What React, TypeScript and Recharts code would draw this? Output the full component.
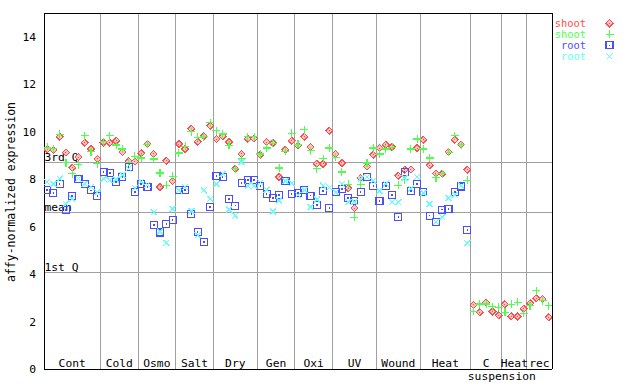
import React from 'react';
import { ScatterChart, Scatter, XAxis, YAxis, ReferenceLine } from 'recharts';

// ---- categories / groups ----
const groupNames = ['Cont', 'Cold', 'Osmo', 'Salt', 'Dry', 'Gen', 'Oxi', 'UV', 'Wound', 'Heat', 'C', 'Heat', 'rec'];
const groupSizes = [9, 6, 6, 6, 7, 6, 6, 7, 7, 8, 5, 4, 4];
const subLabelText = 'suspension';
const subLabelBoundaryIndex = 10; // boundary after group "C"

// ---- axis ticks ----
const yTicks = [0, 2, 4, 6, 8, 10, 12, 14];
const yDomain = [0, 15];

// ---- quartile lines ----
const quartileLabels = ['3rd Q', 'mean', '1st Q'];
const quartileValues = [8.68, 6.61, 4.08];

// ---- series ----
const seriesNames = ['shoot', 'shoot', 'root', 'root'];
const seriesColors = ['#ff4d4d', '#4dff4d', '#4d4dff', '#5cffff'];

const shootRed = [
  9.26, 9.22, 9.79, 9.13, 8.48, 8.93, 9.53, 9.27, 8.85,
  9.54, 9.53, 9.61, 9.15, 8.75, 8.75,
  9.10, 9.48, 9.06, 7.67, 8.78, 7.93,
  9.48, 9.27, 10.12, 9.58, 9.81, 10.24,
  9.69, 9.80, 9.56, 8.44, 9.06, 9.70, 9.71,
  9.03, 9.56, 9.52, 8.09, 9.24, 9.62,
  9.42, 9.78, 9.35, 8.64, 8.64, 10.04,
  9.06, 8.68, 7.62, 6.78, 8.05, 8.54, 9.03,
  9.31, 9.45, 9.35, 8.14, 8.40, 8.40, 9.31,
  9.66, 8.58, 8.23, 8.23, 9.14, 9.66, 9.45, 8.40,
  2.70, 2.39, 2.80, 2.42, 2.26,
  2.73, 2.22, 2.22, 2.53,
  2.77, 2.98, 2.95, 2.18,
];

const shootGreen = [
  9.34, 9.28, 9.89, 8.70, 8.22, 8.61, 9.82, 9.15, 8.65,
  9.58, 9.82, 9.44, 9.27, 8.71, 8.96,
  8.89, 9.46, 8.85, 8.26, 7.75, 8.12,
  9.10, 9.39, 9.99, 9.77, 9.78, 10.37,
  10.04, 9.90, 9.42, 8.44, 8.86, 9.78, 9.78,
  9.06, 9.31, 9.52, 8.47, 9.17, 9.94,
  9.47, 10.08, 9.20, 8.44, 8.86, 9.31,
  8.93, 8.30, 7.79, 6.40, 7.79, 8.68, 9.31,
  9.06, 9.27, 9.35, 7.75, 7.97, 9.27, 9.69,
  9.27, 8.89, 8.05, 8.23, 9.14, 9.83, 9.45, 7.96,
  2.43, 2.74, 2.74, 2.63, 2.60,
  2.39, 2.73, 2.81, 2.35,
  2.66, 3.29, 2.87, 2.66,
];

const rootBlue = [
  7.54, 7.42, 7.80, 6.70, 7.28, 8.02, 7.80, 7.53, 7.28,
  8.30, 8.26, 7.87, 8.09, 8.51, 7.46,
  7.80, 7.67, 6.07, 5.75, 6.10, 6.28,
  7.53, 7.54, 6.53, 5.77, 5.35, 6.82,
  8.13, 8.09, 7.16, 6.88, 7.83, 7.96, 7.96,
  7.72, 7.37, 7.20, 7.33, 7.93, 7.37,
  7.41, 7.54, 7.30, 6.92, 7.51, 6.78,
  7.45, 7.58, 7.20, 7.09, 7.45, 8.09, 7.72,
  7.07, 7.72, 7.34, 6.41, 8.30, 7.51, 7.79,
  7.44, 6.46, 6.19, 6.71, 6.74, 7.45, 7.69, 5.86,
  null, null, null, null, null,
  null, null, null, null,
  null, null, null, null,
];

const rootCyan = [
  7.88, 7.80, 8.02, 6.96, 7.18, 8.02, 7.80, 7.67, 7.45,
  8.02, 7.96, 7.99, 8.18, 8.45, 7.63,
  7.88, 7.77, 6.61, 5.80, 5.32, 6.75,
  7.53, 7.67, 6.66, 5.64, 7.53, 7.17,
  7.79, 8.22, 6.72, 6.46, 8.72, 7.72, 7.72,
  7.86, 7.55, 6.64, 7.10, 7.93, 7.83,
  7.34, 7.54, 6.82, 7.14, 7.72, 7.65,
  7.45, 7.79, 7.03, 7.03, 8.02, 8.09, 7.93,
  7.50, 7.81, 7.03, 7.03, 8.05, 7.59, 8.09,
  7.41, 6.95, 6.19, 6.40, 7.20, 7.34, 7.72, 5.30,
  null, null, null, null, null,
  null, null, null, null,
  null, null, null, null,
];

const seriesValues = [shootRed, shootGreen, rootBlue, rootCyan];

// ---- derived ----
const totalSamples = groupSizes.reduce((a, b) => a + b, 0);
const boundaries: number[] = [];
const groupCenters: number[] = [];
{
  let acc = 0;
  groupSizes.forEach((s, i) => {
    groupCenters.push(acc + s / 2);
    acc += s;
    if (i < groupSizes.length - 1) boundaries.push(acc);
  });
}
const toPoints = (vals: (number | null)[]) =>
  vals
    .map((v, i) => (v == null ? null : { x: i + 0.5, y: v }))
    .filter((p) => p !== null) as { x: number; y: number }[];

const FONT = '"DejaVu Sans Mono", "Liberation Mono", monospace';
const GRID = '#a0a0a0';

// ---- markers ----
const Marker = ({ kind, cx, cy, color }: { kind: number; cx: number; cy: number; color: string }) => {
  if (cx == null || cy == null) return null;
  if (kind === 0) {
    return (
      <g>
        <path
          d={`M${cx},${cy - 3.5}L${cx + 3.5},${cy}L${cx},${cy + 3.5}L${cx - 3.5},${cy}Z`}
          fill="#ffc0c0"
          stroke={color}
          strokeWidth={1}
        />
        <rect x={cx - 0.5} y={cy - 0.5} width={1} height={1} fill={color} />
      </g>
    );
  }
  if (kind === 1) {
    return (
      <g stroke={color} strokeWidth={1.1}>
        <line x1={cx - 4} y1={cy} x2={cx + 4} y2={cy} />
        <line x1={cx} y1={cy - 4} x2={cx} y2={cy + 4} />
      </g>
    );
  }
  if (kind === 2) {
    return (
      <g>
        <rect x={cx - 3.5} y={cy - 3.5} width={7} height={7} fill="none" stroke={color} strokeWidth={1.1} />
        <rect x={cx - 0.75} y={cy - 0.75} width={1.5} height={1.5} fill={color} />
      </g>
    );
  }
  return (
    <g stroke={color} strokeWidth={1.1}>
      <line x1={cx - 3} y1={cy - 3} x2={cx + 3} y2={cy + 3} />
      <line x1={cx - 3} y1={cy + 3} x2={cx + 3} y2={cy - 3} />
    </g>
  );
};

const GroupTick = (props: any) => {
  const { x, y, payload } = props;
  const idx = groupCenters.findIndex((c) => Math.abs(c - payload.value) < 1e-6);
  return (
    <text x={x} y={y - 2} textAnchor="middle" fontFamily={FONT} fontSize={11.3} fill="#000">
      {idx >= 0 ? groupNames[idx] : ''}
    </text>
  );
};

const QLabel = (props: any) => {
  const vb = props.viewBox || {};
  return (
    <text x={vb.x + 0.5} y={vb.y - 1.5} fontFamily={FONT} fontSize={11.3} fill="#000">
      {props.text}
    </text>
  );
};

const SubLabel = (props: any) => {
  const vb = props.viewBox || {};
  return (
    <text x={vb.x} y={vb.y + vb.height + 11} textAnchor="middle" fontFamily={FONT} fontSize={11.3} fill="#000">
      {subLabelText}
    </text>
  );
};

export default function App() {
  return (
    <div
      style={{
        position: 'absolute',
        left: 0,
        top: 0,
        width: 640,
        height: 384,
        background: '#fff',
        shapeRendering: 'crispEdges',
      }}
    >
      <ScatterChart width={640} height={384} margin={{ top: 13, right: 88, bottom: 0, left: 0 }}>
        <XAxis
          xAxisId="x"
          type="number"
          dataKey="x"
          domain={[0, totalSamples]}
          allowDataOverflow
          ticks={groupCenters}
          interval={0}
          tick={<GroupTick />}
          tickLine={false}
          tickSize={0}
          tickMargin={0}
          axisLine={{ stroke: '#000' }}
          height={15}
        />
        <YAxis
          yAxisId="y"
          type="number"
          dataKey="y"
          domain={yDomain}
          allowDataOverflow
          ticks={yTicks}
          interval={0}
          width={44}
          tickLine={false}
          axisLine={{ stroke: '#000' }}
          tick={{ fontSize: 11.3, fill: '#000', fontFamily: FONT }}
        />
        <YAxis
          yAxisId="yl"
          type="number"
          orientation="left"
          mirror
          domain={yDomain}
          allowDataOverflow
          ticks={yTicks}
          interval={0}
          width={10}
          tick={false}
          tickSize={5}
          axisLine={false}
          tickLine={{ stroke: '#000' }}
        />
        <YAxis
          yAxisId="yr"
          type="number"
          orientation="right"
          mirror
          domain={yDomain}
          allowDataOverflow
          ticks={yTicks}
          interval={0}
          width={10}
          tick={false}
          tickSize={5}
          axisLine={{ stroke: '#000' }}
          tickLine={{ stroke: '#000' }}
        />
        {boundaries.map((b, i) => (
          <ReferenceLine
            key={'b' + i}
            xAxisId="x"
            yAxisId="y"
            x={b}
            stroke={GRID}
            strokeWidth={1}
            label={i === subLabelBoundaryIndex ? <SubLabel /> : undefined}
          />
        ))}
        {quartileValues.map((q, i) => (
          <ReferenceLine
            key={'q' + i}
            xAxisId="x"
            yAxisId="y"
            y={q}
            stroke={GRID}
            strokeWidth={1}
            label={<QLabel text={quartileLabels[i]} />}
          />
        ))}
        <ReferenceLine xAxisId="x" yAxisId="y" y={yDomain[1]} stroke="#000" strokeWidth={1} />
        {seriesValues.map((vals, k) => (
          <Scatter
            key={'s' + k}
            xAxisId="x"
            yAxisId="y"
            name={seriesNames[k]}
            data={toPoints(vals)}
            isAnimationActive={false}
            shape={(p: any) => <Marker kind={k} cx={p.cx} cy={p.cy} color={seriesColors[k]} />}
          />
        ))}
      </ScatterChart>
      <svg
        width={640}
        height={384}
        style={{ position: 'absolute', left: 0, top: 0, pointerEvents: 'none' }}
      >
        <text
          x={15}
          y={192}
          transform="rotate(-90 15 192)"
          textAnchor="middle"
          fontFamily={FONT}
          fontSize={11.5}
          fill="#000"
        >
          affy-normalized expression
        </text>
        {seriesNames.map((n, k) => (
          <g key={'lg' + k}>
            <text
              x={586}
              y={26.6 + 11 * k}
              textAnchor="end"
              fontFamily={FONT}
              fontSize={10.4}
              fill={seriesColors[k]}
            >
              {n}
            </text>
            <Marker kind={k} cx={609.5} cy={23.3 + 11 * k} color={seriesColors[k]} />
          </g>
        ))}
      </svg>
    </div>
  );
}
